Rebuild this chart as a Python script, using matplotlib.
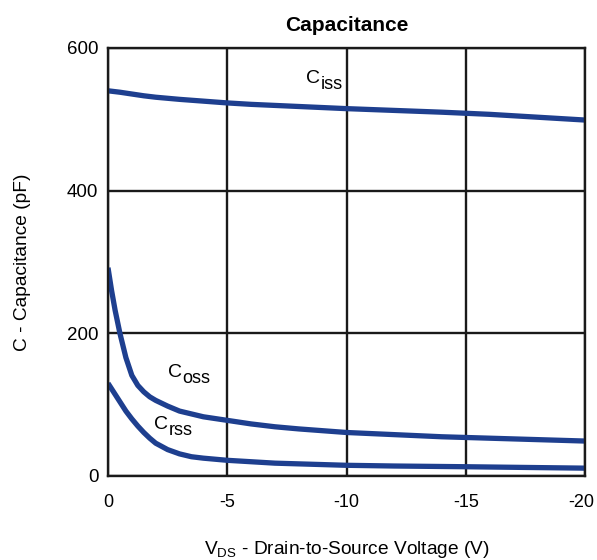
import matplotlib
matplotlib.use('Agg')
from matplotlib import pyplot as plt
from matplotlib import transforms

plt.rcParams['font.family'] = ['Liberation Sans', 'DejaVu Sans']
plt.rcParams['mathtext.fontset'] = 'custom'
plt.rcParams['mathtext.rm'] = 'Liberation Sans'

# values (V, pF)
ciss_v = [0, -0.5, -1, -1.5, -2, -3, -4, -5, -6, -7, -8, -10, -12, -14, -16, -18, -20]
ciss_c = [540, 538, 535.5, 533, 531, 528, 525.5, 523, 521, 519.5, 518, 515, 512.5, 510, 507, 503, 499]

coss_v = [0, -0.15, -0.3, -0.5, -0.75, -1.0, -1.25, -1.5, -1.75, -2, -2.5, -3, -4, -5, -6, -7, -8,
          -10, -12, -14, -16, -18, -20]
coss_c = [292, 260, 232, 200, 166, 141, 127, 118, 111, 106, 98, 91, 83, 78, 73, 69, 66,
          61, 58, 55, 53, 51, 49]

crss_v = [0, -0.25, -0.5, -0.75, -1.0, -1.25, -1.5, -1.75, -2, -2.5, -3, -3.5, -4, -5, -6, -7,
          -8, -10, -12, -15, -20]
crss_c = [130, 117, 104, 91, 80, 70, 61, 53, 46, 37, 31, 27, 25, 22, 20, 18,
          17, 15, 14, 13, 11]

xticks = [0, -5, -10, -15, -20]
yticks = [0, 200, 400, 600]

# curve labels: (main letter, subscript, V, pF)
labels = [('C', 'iss', -8.9, 557), ('C', 'oss', -3.1, 145), ('C', 'rss', -2.5, 72)]

blue = '#1e3f8f'

fig = plt.figure(figsize=(5.97, 5.6), dpi=100)
ax = fig.add_axes([108 / 597, 1 - 476 / 560, 477 / 597, 428 / 560])

for v, c in [(ciss_v, ciss_c), (coss_v, coss_c), (crss_v, crss_c)]:
    ax.plot(v, c, color=blue, lw=3.8, solid_capstyle='butt', solid_joinstyle='round')

ax.set_xlim(0, -20)
ax.set_ylim(0, 600)
ax.set_xticks(xticks)
ax.set_yticks(yticks)
ax.set_xticklabels([str(t) for t in xticks], fontsize=13)
ax.set_yticklabels([str(t) for t in yticks], fontsize=13.5)
ax.tick_params(axis='x', length=0, pad=13)
ax.tick_params(axis='y', length=0, pad=7)
# last x label sits against the right edge, nudge it inward
last = ax.get_xticklabels()[-1]
last.set_transform(last.get_transform() + transforms.ScaledTranslation(-4 / 100, 0, fig.dpi_scale_trans))
ax.grid(True, color='#1a1a1a', lw=1.7)
for s in ax.spines.values():
    s.set_color('#1a1a1a')
    s.set_linewidth(1.7)

for main, sub, v, c in labels:
    ax.annotate(main, (v, c), ha='right', va='center', fontsize=14)
    ax.annotate(sub, (v, c), xytext=(0.5, -4), textcoords='offset points',
                ha='left', va='center', fontsize=13)

ax.set_title('Capacitance', fontsize=15, fontweight='bold', pad=12)
ax.set_xlabel(r'$\mathregular{V_{DS}}$ - Drain-to-Source Voltage (V)', fontsize=13.8, labelpad=20)
ax.set_ylabel('C - Capacitance (pF)', fontsize=13.8, labelpad=26)

fig.savefig('out.png', dpi=100)
